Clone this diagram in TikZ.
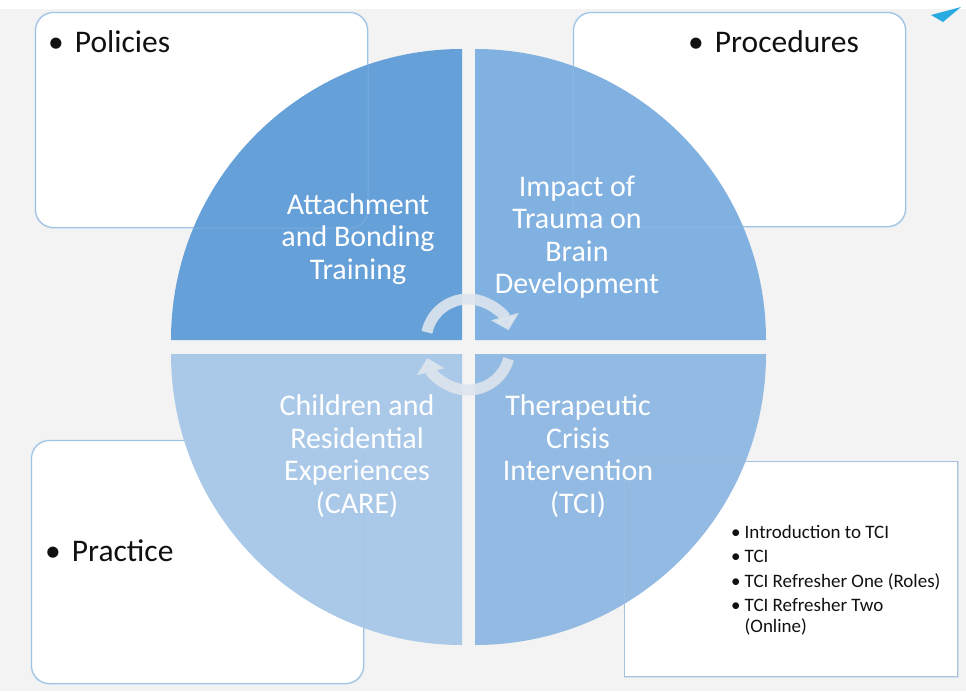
\documentclass[tikz,border=0pt]{standalone}
\usepackage{fontspec}
\setmainfont{Carlito}
\usetikzlibrary{arrows.meta}
\definecolor{bg}{HTML}{F3F3F3}
\definecolor{qTL}{HTML}{66A0D8}
\definecolor{qTR}{HTML}{80B1E0}
\definecolor{qBL}{HTML}{AAC9E8}
\definecolor{qBR}{HTML}{92BAE3}
\definecolor{boxline}{HTML}{9DC3E6}
\definecolor{boxlinetwo}{HTML}{A7C2DD}
\definecolor{arrowc}{HTML}{DDE5EE}
\definecolor{logo}{HTML}{29ABE2}
\definecolor{txt}{HTML}{111111}
\begin{document}
\begin{tikzpicture}[x=1pt,y=-1pt,
  roundbox/.style={draw=boxline, line width=1.1pt, fill=white, rounded corners=18pt,
    inner sep=0pt, anchor=north west},
  listbox/.style={draw=boxlinetwo, line width=1.1pt, fill=white,
    inner sep=0pt, anchor=north west},
  faint/.style={draw=boxline, line width=1pt, opacity=0.35},
  boxlabel/.style={anchor=base west, inner sep=0pt, text=txt,
    font=\fontsize{31.5}{36}\selectfont},
  quadtext/.style={align=center, inner sep=0pt, text=white,
    font=\fontsize{30}{32.5}\selectfont},
  cyc/.style={draw=arrowc, line width=11pt, opacity=0.9,
    -{Triangle[width=28pt,length=14pt]}}
]
\useasboundingbox (0,0) rectangle (966,691);
\fill[bg] (0,0) rectangle (966,691);
\fill[white] (0,0) rectangle (966,9);

% boxes
\node[roundbox, minimum width=332pt, minimum height=215pt] (policies) at (35,12) {};
\node[roundbox, minimum width=332pt, minimum height=214pt] (procedures) at (573,12) {};
\node[roundbox, minimum width=332pt, minimum height=243pt] (practice) at (31,440) {};
\node[listbox, minimum width=333pt, minimum height=215pt] (tcibox) at (624,461) {};

% logo fragment
\fill[logo] (931,15) -- (961,7) -- (943,22) -- cycle;

% circle quadrants
\fill[qTL] (462,340) -- (171,340) arc[start angle=180, end angle=270, radius=291] -- cycle;
\fill[qTR] (475,340) -- (475,49) arc[start angle=270, end angle=360, radius=291] -- cycle;
\fill[qBR] (475,354) -- (766,354) arc[start angle=0, end angle=90, radius=291] -- cycle;
\fill[qBL] (462,354) -- (462,645) arc[start angle=90, end angle=180, radius=291] -- cycle;

% faint box borders over the circle
\draw[faint, rounded corners=18pt] (policies.north west) rectangle (policies.south east);
\draw[faint, rounded corners=18pt] (procedures.north west) rectangle (procedures.south east);
\draw[faint, rounded corners=18pt] (practice.north west) rectangle (practice.south east);
\draw[faint, draw=boxlinetwo] (tcibox.north west) rectangle (tcibox.south east);

% central cycle arrows
\coordinate (topc) at (468,341);
\coordinate (botc) at (468,348);
\draw[cyc] ([shift={(192:42)}]topc) arc[start angle=192, end angle=345, radius=42];
\draw[cyc] ([shift={(15:42)}]botc) arc[start angle=15, end angle=166, radius=42];

% quadrant texts
\node[quadtext] (attach) at (358,239) {Attachment\\and Bonding\\Training};
\node[quadtext] (impact) at (577,237) {Impact of\\Trauma on\\Brain\\Development};
\node[quadtext] (care) at (357,456) {Children and\\Residential\\Experiences\\(CARE)};
\node[quadtext] (tci) at (578,456) {Therapeutic\\Crisis\\Intervention\\(TCI)};

% box labels
\node[boxlabel] (policiesT) at (48,52) {•\hspace{11pt}Policies};
\node[boxlabel] (proceduresT) at (688,52) {•\hspace{11pt}Procedures};
\node[boxlabel] (practiceT) at (45,561) {•\hspace{11pt}Practice};
\node[anchor=base west, inner sep=0pt, text=txt, font=\fontsize{19}{20.5}\selectfont] (tcilist) at (731,538)
 {\begin{tabular}[t]{@{}l@{\hspace{4pt}}l@{}}
  •&Introduction to TCI\\[4pt]
  •&TCI\\[4pt]
  •&TCI Refresher One (Roles)\\[4pt]
  •&TCI Refresher Two\\
   &(Online)
  \end{tabular}};
\end{tikzpicture}
\end{document}
